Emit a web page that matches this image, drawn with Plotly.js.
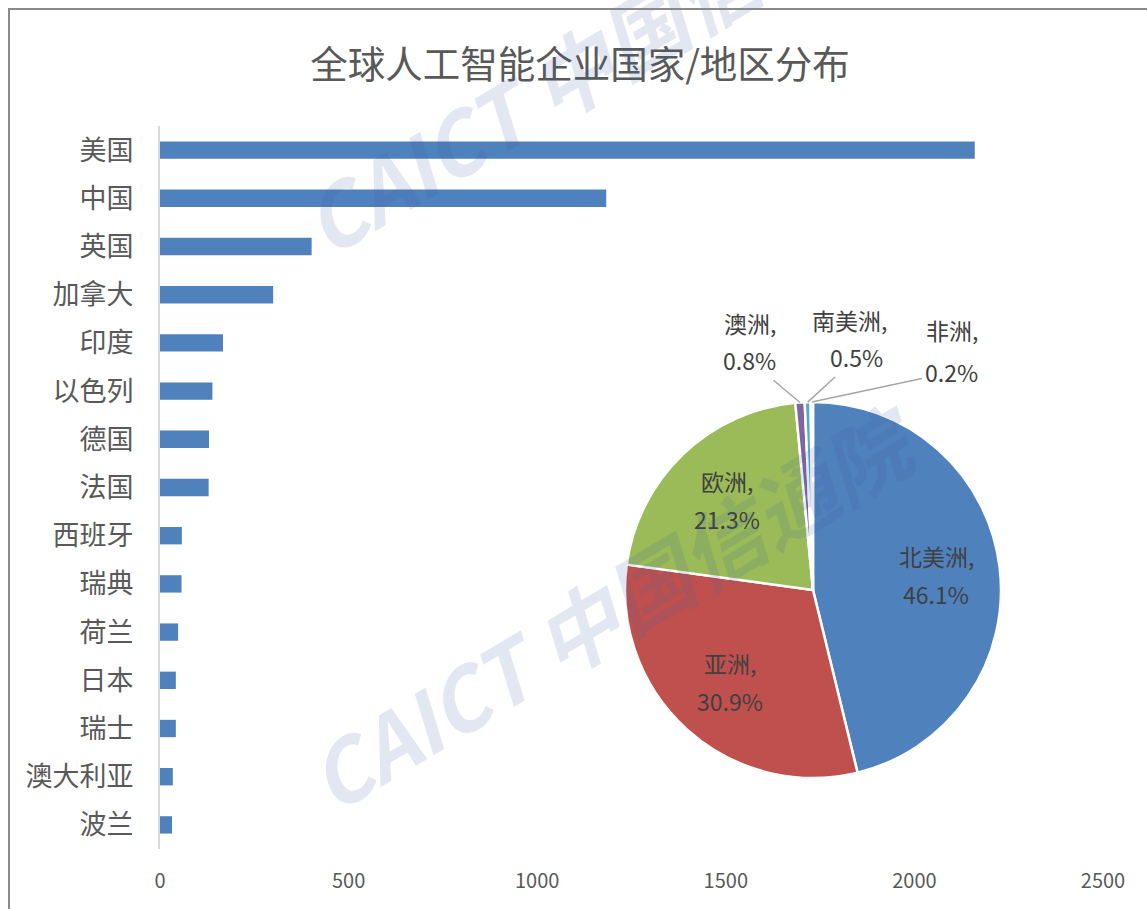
<!DOCTYPE html>
<html>
<head>
<meta charset="utf-8">
<script src="https://cdn.plot.ly/plotly-3.0.1.min.js"></script>
<style>
  html, body { margin: 0; padding: 0; background: #fff; }
  #wrap { position: relative; width: 1147px; height: 909px; overflow: hidden; }
  #chart { width: 1147px; height: 909px; }
  #frame { position: absolute; left: 8px; top: 8px; width: 1200px; height: 1000px;
           border-left: 2px solid #8a8a8a; border-top: 2px solid #8a8a8a; pointer-events: none; }
</style>
</head>
<body>
<div id="wrap">
  <div id="chart"></div>
  <div id="frame"></div>
</div>
<script>
// ---- data ----
const countries = ["美国","中国","英国","加拿大","印度","以色列","德国","法国","西班牙","瑞典","荷兰","日本","瑞士","澳大利亚","波兰"];
const companies = [2160, 1183, 402, 300, 167, 139, 130, 129, 58, 57, 48, 42, 42, 34, 32];
const xTicks = [0, 500, 1000, 1500, 2000, 2500];

const regions = ["北美洲","亚洲","欧洲","澳洲","南美洲","非洲"];
const regionShare = [46.1, 30.9, 21.3, 0.8, 0.5, 0.2];
const regionColors = ["#4F81BD","#C0504D","#9BBB59","#8064A2","#4BACC6","#F79646"];

// ---- layout constants ----
const W = 1147, H = 909;
const M = {l: 160, r: 44, t: 126, b: 60};
const PW = W - M.l - M.r, PH = H - M.t - M.b;
const pieC = {x: 813, y: 590}, pieR = 188;
const px2x = p => (p - M.l) / PW;
const px2y = p => (H - M.b - p) / PH;

const font = '"Noto Sans CJK SC", "Noto Sans", sans-serif';

const bar = {
  type: 'bar', orientation: 'h',
  x: companies, y: countries,
  marker: {color: '#4F81BD'},
  width: 0.36,
  hoverinfo: 'x+y',
  xaxis: 'x', yaxis: 'y'
};

const pie = {
  type: 'pie',
  labels: regions, values: regionShare,
  sort: false, direction: 'clockwise', rotation: 0,
  marker: {colors: regionColors, line: {color: '#ffffff', width: 2.5}},
  textinfo: 'none',
  hoverinfo: 'label+value',
  showlegend: false,
  domain: {x: [px2x(pieC.x - pieR), px2x(pieC.x + pieR)], y: [px2y(pieC.y + pieR), px2y(pieC.y - pieR)]}
};

// pie label annotations computed from slice angles
const total = regionShare.reduce((a, b) => a + b, 0);
let cum = 0;
const mids = regionShare.map(v => { const m = (cum + v / 2) / total * 2 * Math.PI; cum += v; return m; });
const annotations = [];
const labelColor = '#404040';
const lblFont = {family: font, size: 23, color: labelColor};
const inner = 0.66;
for (let i = 0; i < 3; i++) {
  const a = mids[i];
  const x = px2x(pieC.x + inner * pieR * Math.sin(a));
  const y = px2y(pieC.y - inner * pieR * Math.cos(a));
  annotations.push({xref: 'paper', yref: 'paper', x, y, xanchor: 'center', yanchor: 'middle',
    yshift: 19, text: regions[i] + ',', showarrow: false, font: lblFont});
  annotations.push({xref: 'paper', yref: 'paper', x, y, xanchor: 'center', yanchor: 'middle',
    yshift: -19, text: regionShare[i].toFixed(1) + '%', showarrow: false, font: lblFont});
}
// outer labels: [name dx, name dy(up), value dx, value dy(down)] relative to slice tip
const outerOffsets = [[-50, 79, -50, -42], [42, 82, 49, -45], [140, 72, 140, -30]];
for (let i = 3; i < 6; i++) {
  const a = mids[i];
  const o = outerOffsets[i - 3];
  const x = px2x(pieC.x + pieR * Math.sin(a));
  const y = px2y(pieC.y - pieR * Math.cos(a));
  annotations.push({xref: 'paper', yref: 'paper', x, y, xanchor: 'center', yanchor: 'middle',
    xshift: o[0], yshift: o[1], text: regions[i] + ',', showarrow: false, font: lblFont});
  annotations.push({xref: 'paper', yref: 'paper', x, y, ax: o[2], ay: o[3],
    xanchor: 'center', yanchor: 'middle',
    text: regionShare[i].toFixed(1) + '%',
    showarrow: true, arrowhead: 0, arrowwidth: 1.5, arrowcolor: '#a6a6a6',
    standoff: 0, startstandoff: 2, font: lblFont});
}

// watermark
const wm = (cx, cy) => ({
  xref: 'paper', yref: 'paper', x: px2x(cx), y: px2y(cy),
  xanchor: 'center', yanchor: 'middle',
  text: 'CAICT 中国信通院', showarrow: false, textangle: -31,
  font: {family: font, size: 84, color: 'rgba(70,95,160,0.15)', weight: 'bold', style: 'italic'}
});
annotations.push(wm(612, 605));
annotations.push(wm(607, 50));

const layout = {
  width: W, height: H,
  margin: M,
  paper_bgcolor: '#ffffff', plot_bgcolor: '#ffffff',
  title: {
    text: '全球人工智能企业国家/地区分布',
    font: {family: font, size: 37.5, color: '#595959'},
    x: 580 / W, xref: 'container', xanchor: 'center',
    y: 1 - 65 / H, yref: 'container', yanchor: 'middle'
  },
  xaxis: {
    range: [0, 2500], tickvals: xTicks, ticktext: xTicks.map(String),
    showgrid: false, zeroline: false, showline: false, ticks: '',
    ticklabelstandoff: 18,
    tickfont: {family: font, size: 20, color: '#595959'},
    fixedrange: true
  },
  yaxis: {
    autorange: 'reversed', type: 'category',
    showgrid: false, zeroline: false,
    showline: true, linecolor: '#d9d9d9', linewidth: 2,
    ticks: '', ticklabelstandoff: 19,
    tickfont: {family: font, size: 27, color: '#595959'},
    fixedrange: true
  },
  showlegend: false,
  bargap: 0.64,
  annotations: annotations
};

Plotly.newPlot('chart', [bar, pie], layout, {staticPlot: true, displayModeBar: false});
</script>
</body>
</html>
